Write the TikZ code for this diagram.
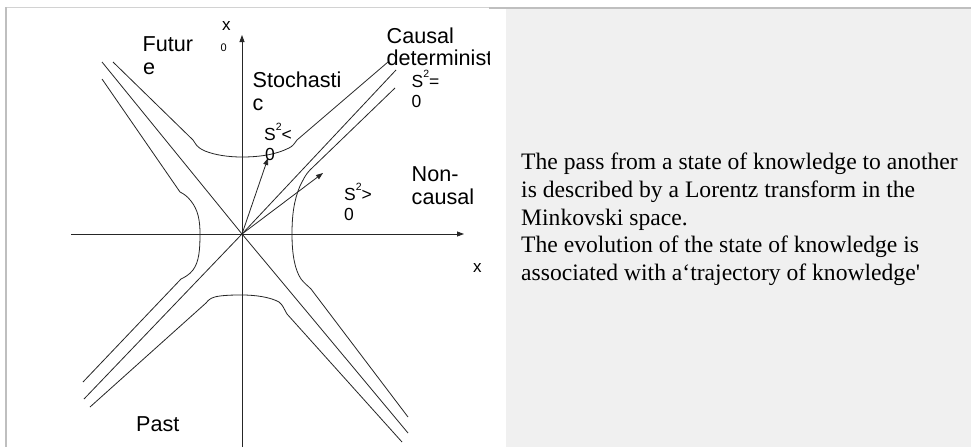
\documentclass[tikz,border=0pt]{standalone}
\usepackage{fontspec}
\setmainfont{Liberation Serif}
\setsansfont{Liberation Sans}
\newfontfamily\bodyfont{Liberation Serif}
\usetikzlibrary{arrows.meta}
\definecolor{panel}{HTML}{F0F0F0}
\definecolor{frame}{HTML}{BFBFBF}
\definecolor{ink}{HTML}{262626}
\newcommand\supII{\raisebox{9.5pt}{\fontsize{10.5}{10.5}\selectfont 2}}
\begin{document}
\begin{tikzpicture}[x=1pt,y=-1pt,
  lab/.style={font=\sffamily\fontsize{21.6}{23}\selectfont, anchor=base west, inner sep=0pt, text=black},
  slab/.style={font=\sffamily\fontsize{17.5}{20}\selectfont, anchor=base west, inner sep=0pt, text=black},
  tiny/.style={font=\sffamily\fontsize{11}{11}\selectfont, anchor=base west, inner sep=0pt, text=black},
  axlab/.style={font=\sffamily\fontsize{17}{17}\selectfont, anchor=base west, inner sep=0pt, text=black},
  curve/.style={draw=ink, line width=0.8pt},
  arr/.style={curve, -{Triangle[length=7pt,width=5pt]}},
  body/.style={font=\bodyfont\fontsize{23.6}{27.7}\selectfont, anchor=base west, inner sep=0pt, text=black}]
\useasboundingbox (0,0) rectangle (971,447);
\fill[white] (0,0) rectangle (971,447);
\fill[panel] (506,9) rectangle (971,447);
\draw[frame!70, line width=1.2pt] (6,7.5) -- (489,7.5);
\draw[frame, line width=2pt] (489,8) -- (971,8);
\draw[frame, line width=2pt] (6,7) -- (6,447);

% axes
\coordinate (O) at (242,234);
\coordinate (ytop) at (242,35);
\coordinate (ybot) at (242,447);
\coordinate (xl) at (71,234);
\coordinate (xr) at (464,234);
\draw[arr] (ybot) -- (ytop);
\draw[arr] (xl) -- (xr);

% light cone
\coordinate (A1) at (102,62);
\coordinate (A2) at (408,433);
\coordinate (D1) at (396,70);
\coordinate (D2) at (84,399);
\draw[curve] (A1) -- (O) -- (A2);
\draw[curve] (D1) -- (O) -- (D2);

% hyperbolas
\draw[curve] (113,62) -- (193,140) .. controls (196,144) and (196,147) .. (205,151)
  .. controls (215,155) and (228,157) .. (242,157)
  .. controls (258,157) and (275,155) .. (289,148)
  .. controls (293,146) and (294,144) .. (297,140) -- (388,62);
\draw[curve] (102,79) -- (180,192) .. controls (184,194) and (187,196) .. (191,201)
  .. controls (198,210) and (200,220) .. (200,234)
  .. controls (200,250) and (199,262) .. (193,270)
  .. controls (189,275) and (185,277) .. (181,279) -- (83,382);
\draw[curve] (395,88) -- (310,170) .. controls (306,174) and (304,178) .. (300,186)
  .. controls (294,200) and (292,215) .. (292,234)
  .. controls (292,255) and (295,270) .. (301,279)
  .. controls (305,284) and (307,285) .. (311,289) -- (408,417);
\draw[curve] (90,407) -- (206,303) .. controls (209,299) and (212,297) .. (220,296)
  .. controls (228,295) and (235,295) .. (242,295)
  .. controls (255,295) and (270,297) .. (279,302)
  .. controls (283,305) and (284,309) .. (287,314) -- (402,442);

% vectors
\coordinate (v1) at (268,158);
\coordinate (v2) at (323,173);
\draw[arr] (O) -- (v1);
\draw[arr] (O) -- (v2);

% labels
\node[axlab] (lx0) at (222,30) {x};
\node[tiny] (lx0s) at (220.5,51.5) {0};
\node[axlab] (lx) at (473,272.5) {x};
\node[lab] (fut1) at (142.5,51.5) {Futur};
\node[lab] (fut2) at (143,74) {e};
\node[lab] (sto1) at (252.5,87.3) {Stochasti};
\node[lab] (sto2) at (252.5,110) {c};
\begin{scope}
\clip (0,0) rectangle (489,447);
\node[lab] (cau1) at (386.5,43.3) {Causal};
\node[lab] (cau2) at (386.5,65) {determinist};
\end{scope}
\node[slab] (seq1) at (411.5,87.3) {S\supII=};
\node[slab] (seq2) at (411.5,107.3) {0};
\node[slab] (slt1) at (264,140) {S\supII<};
\node[slab] (slt2) at (265,160) {0};
\node[lab] (nc1) at (411.5,181.7) {Non-};
\node[lab] (nc2) at (411.5,204) {causal};
\node[slab] (sgt1) at (344,200) {S\supII>};
\node[slab] (sgt2) at (344,220) {0};
\node[lab] (past) at (136,431.7) {Past};

\node[body] (t1) at (521,169) {The pass from a state of knowledge to another};
\node[body] (t2) at (521,197) {is described by a Lorentz transform in the};
\node[body] (t3) at (521,225) {Minkovski space.};
\node[body] (t4) at (521,252.5) {The evolution of the state of knowledge is};
\node[body] (t5) at (521,280) {associated with a‘trajectory of knowledge'};
\end{tikzpicture}
\end{document}
